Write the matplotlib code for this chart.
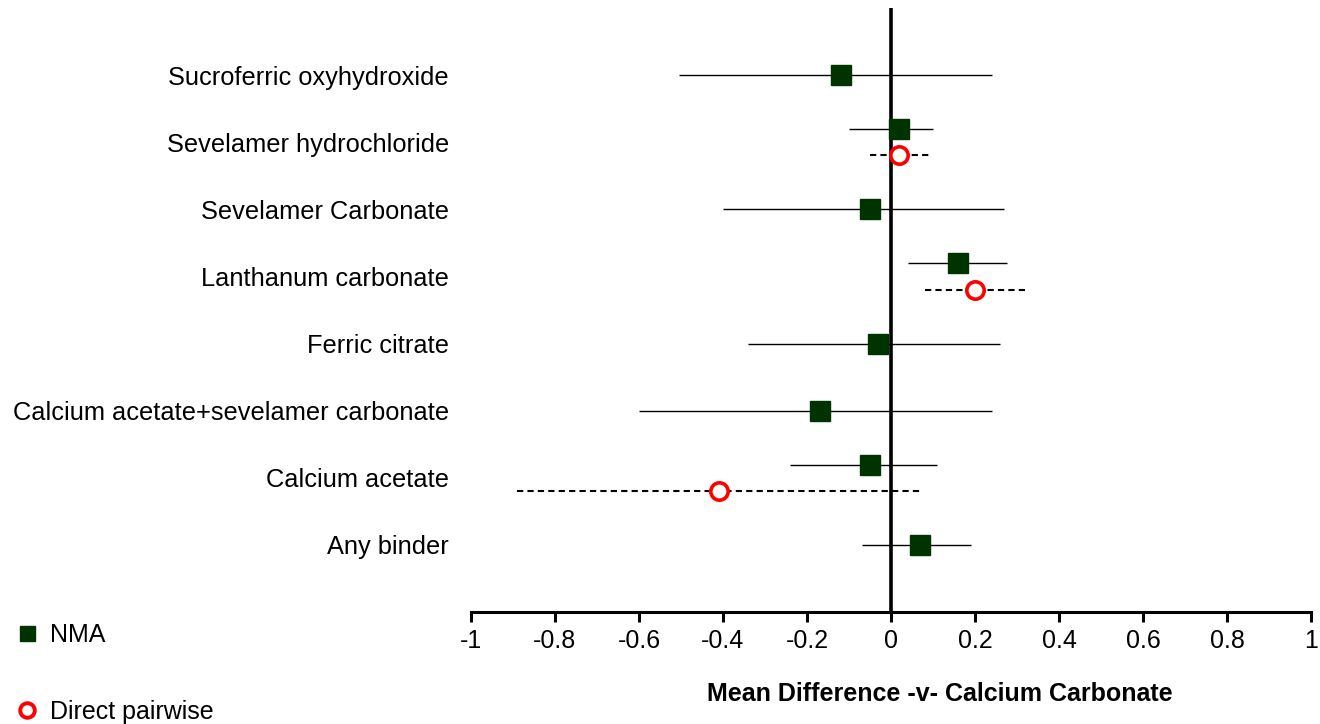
import matplotlib
matplotlib.use("Agg")
import matplotlib.pyplot as plt
from matplotlib.lines import Line2D
import numpy as np

treatments = ["Sucroferric oxyhydroxide", "Sevelamer hydrochloride", "Sevelamer Carbonate",
              "Lanthanum carbonate", "Ferric citrate", "Calcium acetate+sevelamer carbonate",
              "Calcium acetate", "Any binder"]
nma_mean = [-0.12, 0.02, -0.05, 0.16, -0.03, -0.17, -0.05, 0.07]
nma_low = [-0.505, -0.10, -0.40, 0.04, -0.34, -0.60, -0.24, -0.07]
nma_high = [0.24, 0.10, 0.27, 0.276, 0.26, 0.24, 0.11, 0.19]
pw_names = ["Sevelamer hydrochloride", "Lanthanum carbonate", "Calcium acetate"]
pw_mean = [0.02, 0.20, -0.41]
pw_low = [-0.05, 0.08, -0.89]
pw_high = [0.09, 0.32, 0.07]
xticks = [-1, -0.8, -0.6, -0.4, -0.2, 0, 0.2, 0.4, 0.6, 0.8, 1]
xlabel = "Mean Difference -v- Calcium Carbonate"

W, H = 1320, 724
fig = plt.figure(figsize=(W / 100, H / 100), dpi=100)
ax = fig.add_axes([471 / W, 1 - 612 / H, (1311 - 471) / W, (612 - 8) / H])

green = "#003300"
off = 0.195
pos = np.arange(len(treatments))
nma_y = [p - off if t in pw_names else p for p, t in zip(pos, treatments)]
pw_y = [treatments.index(n) + off for n in pw_names]

ax.hlines(nma_y, nma_low, nma_high, color="black", lw=1.0, zorder=2)
ax.hlines(pw_y, pw_low, pw_high, color="black", lw=1.5, linestyles=(0, (3, 2)), zorder=2)
ax.axvline(0, color="black", lw=2.6, zorder=3)
ax.plot(nma_mean, nma_y, ls="none", marker="s", ms=15, mfc=green, mec=green, zorder=4)
ax.plot(pw_mean, pw_y, ls="none", marker="o", ms=12.5, mfc="white", mec="#ff0000", mew=2.6, zorder=4)

ax.set_xlim(-1, 1)
ax.set_ylim(8.0, -1.0)
for s in ["top", "right", "left"]:
    ax.spines[s].set_visible(False)
ax.spines["bottom"].set_linewidth(2.2)
ax.set_xticks(xticks)
ax.set_xticklabels([f"{v:g}" for v in xticks], fontsize=18, family="Liberation Sans")
ax.tick_params(axis="x", length=7, width=2.2, pad=5, direction="out")
ax.set_yticks(pos)
ax.set_yticklabels(treatments, fontsize=18.3, family="Liberation Sans")
ax.tick_params(axis="y", length=0, pad=16)

fig.text(940 / W, 1 - 694 / H, xlabel, ha="center", va="center", fontsize=18,
         fontweight="bold", family="Liberation Sans")

handles = [Line2D([], [], ls="none", marker="s", ms=10.8, mfc=green, mec=green),
           Line2D([], [], ls="none", marker="o", ms=10.5, mfc="white", mec="#ff0000", mew=2.8)]
fig.legend(handles, ["NMA", "Direct pairwise"], loc="upper left",
           bbox_to_anchor=(6 / W, 1 - 613 / H), frameon=False,
           prop={"family": "Liberation Sans", "size": 18},
           labelspacing=2.12, handlelength=0.9, handletextpad=0.45, borderaxespad=0)

fig.savefig("out.png", dpi=100)
